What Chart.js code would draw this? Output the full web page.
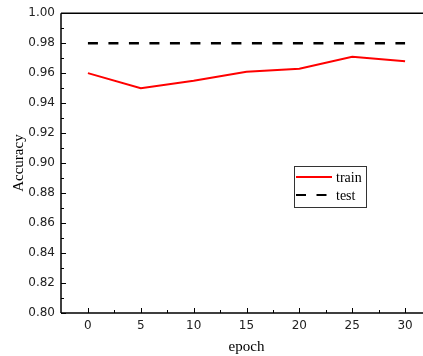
<!DOCTYPE html>
<html>
<head>
<meta charset="utf-8">
<script src="https://cdn.jsdelivr.net/npm/chart.js@4"></script>
<style>
html,body{margin:0;padding:0;background:#fff;overflow:hidden;}
#wrap{width:450px;height:356px;position:relative;}
</style>
</head>
<body>
<div id="wrap"><canvas id="c"></canvas></div>
<script>
const epochs = [0, 5, 10, 15, 20, 25, 30];
const trainAcc = [0.960, 0.950, 0.955, 0.961, 0.963, 0.971, 0.968];
const testAcc = [0.980, 0.980, 0.980, 0.980, 0.980, 0.980, 0.980];
const xTickValues = [0, 5, 10, 15, 20, 25, 30];
const yTickValues = [0.80, 0.82, 0.84, 0.86, 0.88, 0.90, 0.92, 0.94, 0.96, 0.98, 1.00];

const tickFont = {family: '"DejaVu Sans", sans-serif', size: 12};
const serif = '"Liberation Serif", "Times New Roman", serif';

const framePlugin = {
  id: 'frame',
  afterDraw(chart) {
    const {ctx, chartArea: a, scales: {x, y}} = chart;
    ctx.save();
    ctx.strokeStyle = '#000';
    ctx.lineWidth = 1.5;
    ctx.beginPath();
    ctx.moveTo(a.left, a.top); ctx.lineTo(a.right, a.top);
    ctx.moveTo(a.left, a.top); ctx.lineTo(a.left, a.bottom);
    ctx.moveTo(a.left, a.bottom); ctx.lineTo(a.right, a.bottom);
    ctx.stroke();
    ctx.lineWidth = 1;
    ctx.beginPath();
    for (let i = 0; i < yTickValues.length; i++) {
      const py = Math.round(y.getPixelForValue(yTickValues[i])) + 0.5;
      ctx.moveTo(a.left, py); ctx.lineTo(a.left + 5, py);
      if (i < yTickValues.length - 1) {
        const my = Math.round(y.getPixelForValue((yTickValues[i] + yTickValues[i + 1]) / 2)) + 0.5;
        ctx.moveTo(a.left, my); ctx.lineTo(a.left + 3, my);
      }
    }
    for (let i = 0; i < xTickValues.length; i++) {
      const px = Math.round(x.getPixelForValue(xTickValues[i])) + 0.5;
      ctx.moveTo(px, a.bottom); ctx.lineTo(px, a.bottom - 5);
      const mx = Math.round(x.getPixelForValue(xTickValues[i] + 2.5)) + 0.5;
      ctx.moveTo(mx, a.bottom); ctx.lineTo(mx, a.bottom - 3);
    }
    ctx.stroke();

    // legend
    const bx = 294, by = 166, bw = 72, bh = 41;
    ctx.strokeStyle = '#333';
    ctx.lineWidth = 1;
    ctx.strokeRect(bx + 0.5, by + 0.5, bw, bh);
    const ds = chart.data.datasets;
    const rows = [by + 11, by + 29];
    ctx.font = '14px ' + serif;
    ctx.textBaseline = 'middle';
    ctx.textAlign = 'left';
    ds.forEach((d, i) => {
      ctx.strokeStyle = d.borderColor;
      ctx.lineWidth = 2;
      ctx.setLineDash(d.borderDash || []);
      ctx.beginPath();
      ctx.moveTo(bx + 2, rows[i]); ctx.lineTo(bx + 38, rows[i]);
      ctx.stroke();
      ctx.setLineDash([]);
      ctx.fillStyle = '#000';
      ctx.fillText(d.label, bx + 42, rows[i] + 1);
    });
    ctx.restore();
  }
};

new Chart(document.getElementById('c'), {
  type: 'line',
  data: {
    datasets: [
      {label: 'train', data: epochs.map((e, i) => ({x: e, y: trainAcc[i]})), borderColor: '#ff0000', borderWidth: 2, pointRadius: 0, fill: false, tension: 0},
      {label: 'test', data: epochs.map((e, i) => ({x: e, y: testAcc[i]})), borderColor: '#000000', borderWidth: 2.5, borderDash: [10, 10.5], pointRadius: 0, fill: false, tension: 0}
    ]
  },
  options: {
    responsive: true,
    maintainAspectRatio: false,
    animation: false,
    layout: {padding: {top: 13, right: 18, left: 0, bottom: 0}},
    plugins: {legend: {display: false}, tooltip: {enabled: false}},
    scales: {
      x: {
        type: 'linear', min: -2.547, max: 32.547,
        afterBuildTicks: s => { s.ticks = xTickValues.map(v => ({value: v})); },
        afterFit: s => { s.height = 43; },
        grid: {display: false, drawTicks: false},
        border: {display: false},
        ticks: {font: tickFont, color: '#222', padding: 6, maxRotation: 0, callback: v => String(v)},
        title: {display: true, text: 'epoch', font: {family: serif, size: 15}, color: '#000', padding: {top: 0, bottom: 0}}
      },
      y: {
        min: 0.80, max: 1.00,
        afterBuildTicks: s => { s.ticks = yTickValues.map(v => ({value: v})); },
        afterFit: s => { s.width = 61; },
        grid: {display: false, drawTicks: false},
        border: {display: false},
        ticks: {font: tickFont, color: '#222', padding: 6, callback: v => Number(v).toFixed(2)},
        title: {display: true, text: 'Accuracy', font: {family: serif, size: 15}, color: '#000', padding: {top: 10, bottom: 0}}
      }
    }
  },
  plugins: [framePlugin]
});
</script>
</body>
</html>
